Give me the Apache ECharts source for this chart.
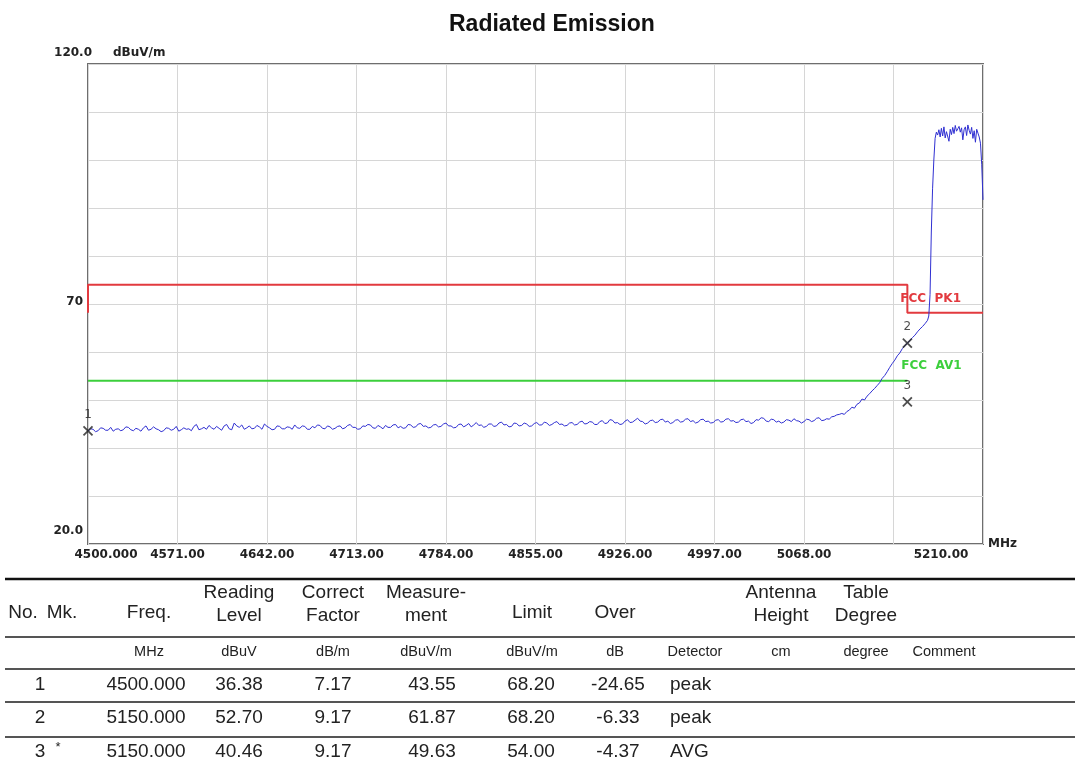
<!DOCTYPE html>
<html>
<head>
<meta charset="utf-8">
<script src="https://cdn.jsdelivr.net/npm/echarts@6/dist/echarts.min.js"></script>
<style>
html,body{margin:0;padding:0;background:#fff;}
#chart{width:1075px;height:767px;}
</style>
</head>
<body>
<div id="chart"></div>
<script>
// ---------- DATA ----------
const xTickFreqs = [4500, 4571, 4642, 4713, 4784, 4855, 4926, 4997, 5068, 5139, 5210];
const xTickLabels = ['4500.000', '4571.00', '4642.00', '4713.00', '4784.00', '4855.00', '4926.00', '4997.00', '5068.00', '', '5210.00'];
const yTickLabels = {120: '120.0', 70: '70', 20: '20.0'};

// noise floor trace, sampled from 4500 MHz every 2 MHz (dBuV/m)
const floorStart = 4500;
const floorStep = 2;
const floorLevels = [
  43.55,44.0,43.9,43.4,43.6,44.2,44.1,43.7,43.7,44.3,43.5,43.9,44.0,43.6,43.8,44.4,44.3,43.8,43.6,44.1,
  43.9,43.5,44.2,44.6,43.7,43.9,44.4,44.0,43.8,43.4,43.6,44.2,44.1,43.7,43.9,44.5,43.5,43.8,44.2,43.9,
  44.0,43.6,44.5,44.9,43.8,44.0,44.3,43.9,44.7,44.2,43.9,44.5,44.1,43.7,44.6,44.9,44.0,43.8,45.2,44.6,
  44.3,44.8,43.9,44.2,44.6,44.0,44.1,44.7,44.4,43.9,45.0,44.5,44.2,43.8,43.9,44.6,44.5,44.0,44.0,44.4,
  44.3,43.9,44.8,44.2,44.1,44.6,44.5,43.9,43.9,44.5,44.2,44.8,44.7,44.1,44.0,44.6,44.4,43.9,44.1,44.5,
  44.6,44.0,44.2,44.7,44.9,44.3,44.3,43.9,44.0,44.6,44.5,44.9,44.8,44.2,44.1,44.7,44.4,44.0,44.7,44.3,
  44.3,44.8,44.9,44.2,44.5,44.1,44.2,44.9,44.8,44.3,44.4,45.0,45.1,44.5,44.6,44.2,44.3,44.8,44.9,44.4,
  44.5,45.0,45.2,44.6,44.6,44.2,44.3,44.9,45.0,44.4,44.7,45.1,44.4,44.8,45.3,44.7,44.8,44.3,44.5,45.0,
  45.0,44.5,44.6,45.2,45.4,44.8,44.9,44.4,44.5,45.2,45.1,44.6,44.7,45.2,45.0,44.5,44.6,45.1,45.3,44.8,
  44.8,45.4,45.2,44.7,44.9,45.3,45.5,44.9,45.0,44.6,44.7,45.2,45.3,44.8,44.9,45.4,45.6,45.0,45.1,45.5,
  45.4,44.9,44.9,45.5,45.7,45.1,45.2,45.9,45.8,45.2,45.3,44.9,45.0,45.6,45.9,45.3,45.4,45.8,46.2,45.6,
  45.5,45.0,45.2,45.7,45.8,45.3,45.4,45.9,46.0,45.4,45.6,45.1,45.3,45.8,45.9,45.4,45.5,46.0,46.1,45.5,
  45.7,45.2,45.4,45.9,46.0,45.5,45.6,45.2,45.3,45.8,45.9,45.4,45.5,46.0,46.1,45.6,45.7,45.3,45.4,45.9,
  46.0,45.5,45.6,45.1,45.3,45.9,45.8,46.3,46.2,45.6,45.5,46.0,45.9,45.4,45.6,45.2,45.4,45.9,45.8,45.5,
  46.1,45.7,45.6,45.2,45.5,46.0,45.9,45.5,45.7,46.2,46.3,45.7,45.8,46.1,46.0,46.5,46.6,46.9,47.0
];
// band edge rise and in-band carrier: [MHz, dBuV/m]
const bandEdgeTrace = [
  [5098,47.2],[5100,47.0],[5102,47.6],[5104,47.9],[5106,48.5],[5108,48.3],[5110,49.1],[5112,49.4],
  [5114,50.2],[5116,50.0],[5118,50.8],[5120,51.3],[5122,51.9],[5124,52.4],[5126,53.0],[5128,53.6],
  [5130,54.5],[5132,55.1],[5134,55.9],[5136,56.8],[5138,57.6],[5140,58.3],[5142,59.2],[5144,59.8],
  [5146,60.7],[5148,61.3],[5150,61.87],[5152,62.4],[5154,63.0],[5156,63.5],[5158,64.2],[5160,64.8],
  [5162,65.3],[5164,65.9],[5166,66.6],[5167,67.5],[5168,72.0],[5169,85.0],[5170,94.0],[5171,100.0],
  [5172,104.5],[5173,105.8],[5174,105.2],[5175,106.3],[5176,104.8],[5177,106.6],[5178,105.0],[5179,106.9],
  [5180,104.6],[5181,105.9],[5182,106.2],[5183,103.9],[5184,106.4],[5185,105.3],[5186,106.8],[5187,105.5],
  [5188,107.2],[5189,106.0],[5190,106.5],[5191,107.0],[5192,105.8],[5193,106.7],[5194,104.2],[5195,106.3],
  [5196,106.9],[5197,105.1],[5198,107.3],[5199,106.2],[5200,105.4],[5201,106.8],[5202,104.5],[5203,106.1],
  [5204,103.7],[5205,106.4],[5206,105.6],[5207,104.8],[5208,103.5],[5209,99.0],[5210,91.7]
];
const peakLimit = [[4500,68.2],[4500,74],[5150,74],[5150,68.2],[5210,68.2]];
const avgLimit = [[4500,54],[5150,54]];
const limitNames = ['FCC  PK1', 'FCC  AV1'];
const markerFreqs = [4500, 5150, 5150];
const markerLevels = [43.55, 61.87, 49.63];
const markerNums = ['1', '2', '3'];

// table
const tableHeaders = [['No.'],['Mk.'],['Freq.'],['Reading','Level'],['Correct','Factor'],['Measure-','ment'],['Limit'],['Over'],[''],['Antenna','Height'],['Table','Degree'],['']];
const tableUnits = ['', '', 'MHz', 'dBuV', 'dB/m', 'dBuV/m', 'dBuV/m', 'dB', 'Detector', 'cm', 'degree', 'Comment'];
const tableRows = [
  ['1', '',  '4500.000', '36.38', '7.17', '43.55', '68.20', '-24.65', 'peak'],
  ['2', '',  '5150.000', '52.70', '9.17', '61.87', '68.20', '-6.33',  'peak'],
  ['3', '*', '5150.000', '40.46', '9.17', '49.63', '54.00', '-4.37',  'AVG']
];

// ---------- LAYOUT / STYLE ----------
const headerX = [23, 62, 149, 239, 333, 426, 532, 615, 695, 781, 866, 944];
const dataX = [40, 58, 146, 239, 333, 432, 531, 618, 670];
const rowY = [685, 718, 752];
const lineY = [637, 669, 702, 737];

const axisFont = {fontFamily: 'DejaVu Sans', fontWeight: 'bold', fontSize: 12, color: '#222'};

const traceData = floorLevels.map((v, i) => [floorStart + i * floorStep, v]).concat(bandEdgeTrace);
const markerData = markerFreqs.map((f, i) => [f, markerLevels[i]]);

// table graphics
const g = [];
g.push({type: 'line', shape: {x1: 5, y1: 579, x2: 1075, y2: 579}, style: {stroke: '#111', lineWidth: 2.5}});
lineY.forEach(y => g.push({type: 'line', shape: {x1: 5, y1: y, x2: 1075, y2: y}, style: {stroke: '#555', lineWidth: 2}}));
const tFont = '19px "Liberation Sans", Arial, sans-serif';
tableHeaders.forEach((h, i) => {
  if (h.length === 2) {
    g.push({type: 'text', x: headerX[i], y: 593, style: {text: h[0], font: tFont, fill: '#222', textAlign: 'center', textVerticalAlign: 'middle'}});
    g.push({type: 'text', x: headerX[i], y: 616, style: {text: h[1], font: tFont, fill: '#222', textAlign: 'center', textVerticalAlign: 'middle'}});
  } else if (h[0]) {
    g.push({type: 'text', x: headerX[i], y: 613, style: {text: h[0], font: tFont, fill: '#222', textAlign: 'center', textVerticalAlign: 'middle'}});
  }
});
tableUnits.forEach((u, i) => {
  if (u) g.push({type: 'text', x: headerX[i], y: 652, style: {text: u, font: '14.5px "Liberation Sans", Arial, sans-serif', fill: '#222', textAlign: 'center', textVerticalAlign: 'middle'}});
});
tableRows.forEach((r, ri) => {
  r.forEach((c, ci) => {
    if (!c) return;
    const isStar = c === '*';
    g.push({type: 'text', x: dataX[ci], y: rowY[ri] + (isStar ? -5 : 0), style: {
      text: c, font: isStar ? '13px "Liberation Sans", Arial, sans-serif' : tFont, fill: '#222',
      textAlign: ci === 8 ? 'left' : 'center', textVerticalAlign: 'middle'}});
  });
});

const chart = echarts.init(document.getElementById('chart'), null, {renderer: 'canvas'});
chart.setOption({
  animation: false,
  backgroundColor: '#fff',
  title: {
    text: 'Radiated Emission', left: 444, top: 8,
    textStyle: {fontFamily: '"Liberation Sans", Arial, sans-serif', fontWeight: 'bold', fontSize: 23, color: '#111'}
  },
  grid: {left: 88, right: 92, top: 64, bottom: 223, show: true, borderColor: '#6e6e6e', borderWidth: 2, backgroundColor: 'transparent'},
  xAxis: {
    type: 'value', min: 4500, max: 5210, interval: 71,
    name: 'MHz', nameLocation: 'end', nameGap: 5,
    nameTextStyle: Object.assign({}, axisFont, {padding: [24, 0, 0, 0]}),
    axisLine: {show: false}, axisTick: {show: false},
    splitLine: {show: true, lineStyle: {color: '#d6d6d6', width: 1}},
    axisLabel: Object.assign({}, axisFont, {
      margin: 5, showMinLabel: true, showMaxLabel: true,
      formatter: v => {
        const i = xTickFreqs.indexOf(Math.round(v));
        if (i < 0 || !xTickLabels[i]) return '';
        if (i === 0) return '{a|' + xTickLabels[i] + '}';
        if (i === xTickFreqs.length - 1) return '{b|' + xTickLabels[i] + '}';
        return xTickLabels[i];
      },
      rich: {
        a: Object.assign({}, axisFont, {padding: [0, 0, 0, 36]}),
        b: Object.assign({}, axisFont, {padding: [0, 84, 0, 0]})
      }
    })
  },
  yAxis: {
    type: 'value', min: 20, max: 120, interval: 10,
    name: 'dBuV/m', nameLocation: 'end', nameGap: 5,
    nameTextStyle: Object.assign({}, axisFont, {align: 'left', padding: [0, 0, 0, 25]}),
    axisLine: {show: false}, axisTick: {show: false},
    splitLine: {show: true, lineStyle: {color: '#d6d6d6', width: 1}},
    axisLabel: Object.assign({}, axisFont, {
      margin: -4, showMinLabel: true, showMaxLabel: true,
      formatter: v => {
        const t = yTickLabels[Math.round(v)];
        if (!t) return '';
        if (v >= 119) return '{t|' + t + '}';
        if (v <= 21) return '{s|' + t + '}';
        return '{m|' + t + '}';
      },
      rich: {
        t: Object.assign({}, axisFont, {padding: [0, 0, 22, 0]}),
        m: Object.assign({}, axisFont, {padding: [0, 9, 4, 0]}),
        s: Object.assign({}, axisFont, {padding: [0, 9, 26, 0]})
      }
    })
  },
  series: [
    {
      type: 'line', data: peakLimit, symbol: 'none', lineStyle: {color: '#e23a3f', width: 2}, z: 2,
      markPoint: {
        symbol: 'circle', symbolSize: 0,
        data: [{coord: [5150, 68.2], value: limitNames[0]}],
        label: {show: true, position: 'right', distance: 0, offset: [-7, -14], formatter: limitNames[0],
          fontFamily: 'DejaVu Sans', fontWeight: 'bold', fontSize: 12, color: '#e23a3f'}
      }
    },
    {
      type: 'line', data: avgLimit, symbol: 'none', lineStyle: {color: '#3ccf3c', width: 2}, z: 2,
      markPoint: {
        symbol: 'circle', symbolSize: 0,
        data: [{coord: [5150, 54], value: limitNames[1]}],
        label: {show: true, position: 'right', distance: 0, offset: [-6, -15], formatter: limitNames[1],
          fontFamily: 'DejaVu Sans', fontWeight: 'bold', fontSize: 12, color: '#3ccf3c'}
      }
    },
    {
      type: 'line', data: traceData, symbol: 'none', lineStyle: {color: '#3030d2', width: 1}, z: 3
    },
    {
      type: 'scatter', data: markerData, z: 4,
      symbol: 'path://M0,0L10,10M10,0L0,10', symbolSize: [9, 9],
      itemStyle: {color: 'none', borderColor: '#222', borderWidth: 1.8},
      label: {show: true, position: 'top', distance: 3, formatter: p => markerNums[p.dataIndex],
        fontFamily: 'DejaVu Sans', fontSize: 12, color: '#222'}
    }
  ],
  graphic: g
});
</script>
</body>
</html>
